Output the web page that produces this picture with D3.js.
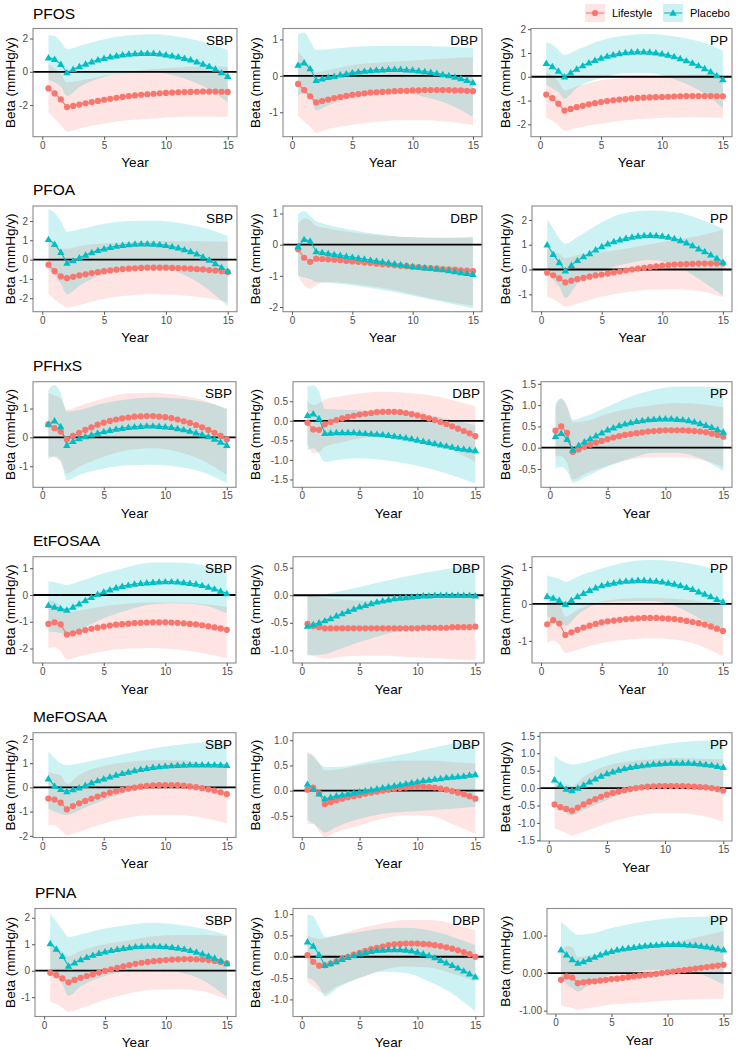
<!DOCTYPE html>
<html><head><meta charset="utf-8">
<script src="https://cdn.jsdelivr.net/npm/d3@7"></script>
<style>body{margin:0;background:#fff} text{font-family:"Liberation Sans",Arial,sans-serif}</style>
</head><body><svg id="c" width="738" height="1050"></svg>
<script>
var years = [0.5,1,1.5,2,2.5,3,3.5,4,4.5,5,5.5,6,6.5,7,7.5,8,8.5,9,9.5,10,10.5,11,11.5,12,12.5,13,13.5,14,14.5,15];
var ribbonYears = [0.5,1,1.5,2,3,5,7,9,11,13,15];
var pollutants = ["PFOS","PFOA","PFHxS","EtFOSAA","MeFOSAA","PFNA"];
var measures = ["SBP","DBP","PP"];
var groups = ["Lifestyle","Placebo"];
var xTicks = [0,5,10,15];

// ---- PFOS ----
var PFOS_SBP_L = [-1.0,-1.3,-1.66,-2.12,-2.05,-1.97,-1.89,-1.82,-1.75,-1.68,-1.62,-1.56,-1.51,-1.46,-1.42,-1.38,-1.35,-1.32,-1.29,-1.27,-1.25,-1.23,-1.22,-1.21,-1.2,-1.19,-1.19,-1.19,-1.2,-1.21];
var PFOS_SBP_Llo = [-2.45,-2.8,-3.2,-3.6,-3.4,-3.1,-2.9,-2.8,-2.72,-2.7,-2.72];
var PFOS_SBP_Lhi = [0.45,0.2,-0.12,-0.64,-0.54,-0.26,-0.02,0.16,0.26,0.32,0.3];
var PFOS_SBP_P = [0.85,0.75,0.45,-0.05,0.15,0.32,0.47,0.6,0.72,0.82,0.9,0.97,1.03,1.07,1.1,1.12,1.12,1.11,1.08,1.03,0.97,0.9,0.82,0.72,0.6,0.47,0.33,0.17,-0.05,-0.27];
var PFOS_SBP_Plo = [-0.5,-0.65,-0.9,-1.45,-0.91,-0.31,-0.06,-0.03,-0.3,-0.86,-1.84];
var PFOS_SBP_Phi = [2.2,2.15,1.8,1.35,1.55,1.95,2.2,2.25,2.1,1.8,1.3];
var PFOS_SBP_ticks = [-2,0,2];

var PFOS_DBP_L = [-0.22,-0.39,-0.56,-0.73,-0.69,-0.65,-0.61,-0.58,-0.55,-0.52,-0.5,-0.48,-0.46,-0.45,-0.44,-0.43,-0.42,-0.41,-0.41,-0.4,-0.4,-0.39,-0.39,-0.39,-0.39,-0.39,-0.4,-0.4,-0.41,-0.42];
var PFOS_DBP_Llo = [-1.1,-1.25,-1.4,-1.56,-1.46,-1.34,-1.26,-1.22,-1.22,-1.26,-1.35];
var PFOS_DBP_Lhi = [0.66,0.47,0.28,0.1,0.16,0.3,0.36,0.4,0.44,0.48,0.51];
var PFOS_DBP_P = [0.3,0.36,0.2,-0.12,-0.08,-0.04,-0.01,0.03,0.06,0.09,0.11,0.13,0.15,0.16,0.17,0.18,0.18,0.18,0.17,0.16,0.14,0.12,0.1,0.07,0.04,0.01,-0.03,-0.07,-0.12,-0.18];
var PFOS_DBP_Plo = [-0.54,-0.47,-0.56,-0.95,-0.81,-0.61,-0.5,-0.46,-0.58,-0.78,-1.13];
var PFOS_DBP_Phi = [1.14,1.19,0.96,0.71,0.73,0.79,0.82,0.82,0.82,0.8,0.77];
var PFOS_DBP_ticks = [-1,0,1];

var PFOS_PP_L = [-0.75,-0.9,-1.13,-1.42,-1.35,-1.28,-1.22,-1.16,-1.11,-1.06,-1.02,-0.99,-0.96,-0.94,-0.91,-0.89,-0.88,-0.87,-0.86,-0.85,-0.84,-0.83,-0.82,-0.81,-0.81,-0.81,-0.81,-0.81,-0.82,-0.82];
var PFOS_PP_Llo = [-1.7,-1.85,-2.05,-2.27,-2.15,-1.97,-1.83,-1.75,-1.71,-1.7,-1.72];
var PFOS_PP_Lhi = [0.2,0.05,-0.21,-0.57,-0.41,-0.15,-0.05,0.01,0.05,0.08,0.08];
var PFOS_PP_P = [0.57,0.43,0.24,0.0,0.17,0.33,0.47,0.59,0.7,0.79,0.87,0.93,0.98,1.02,1.04,1.05,1.05,1.04,1.01,0.97,0.92,0.85,0.77,0.68,0.58,0.47,0.35,0.21,0.05,-0.11];
var PFOS_PP_Plo = [-0.31,-0.49,-0.65,-0.92,-0.47,-0.05,0.15,0.15,-0.1,-0.55,-1.32];
var PFOS_PP_Phi = [1.45,1.35,1.13,0.92,1.13,1.53,1.74,1.8,1.7,1.49,1.1];
var PFOS_PP_ticks = [-2,-1,0,1,2];

// ---- PFOA ----
var PFOA_SBP_L = [-0.26,-0.6,-0.87,-0.96,-0.89,-0.82,-0.76,-0.7,-0.65,-0.6,-0.56,-0.52,-0.49,-0.47,-0.45,-0.43,-0.42,-0.42,-0.42,-0.42,-0.43,-0.44,-0.45,-0.47,-0.49,-0.51,-0.54,-0.57,-0.6,-0.64];
var PFOA_SBP_Llo = [-1.75,-2.05,-2.3,-2.48,-2.35,-2.03,-1.86,-1.8,-1.83,-1.97,-2.2];
var PFOA_SBP_Lhi = [1.23,0.85,0.56,0.56,0.71,0.83,0.92,0.96,0.95,0.95,0.92];
var PFOA_SBP_P = [1.05,0.8,0.38,-0.18,-0.05,0.1,0.24,0.37,0.48,0.57,0.64,0.7,0.75,0.78,0.81,0.82,0.82,0.81,0.79,0.74,0.68,0.62,0.52,0.42,0.3,0.15,-0.02,-0.2,-0.4,-0.6];
var PFOA_SBP_Plo = [-0.5,-0.83,-1.24,-1.8,-1.37,-0.72,-0.44,-0.41,-0.67,-1.35,-2.42];
var PFOA_SBP_Phi = [2.6,2.43,2.0,1.44,1.57,1.86,2.0,2.03,1.91,1.65,1.22];
var PFOA_SBP_ticks = [-2,-1,0,1,2];

var PFOA_DBP_L = [-0.15,-0.42,-0.55,-0.45,-0.46,-0.47,-0.48,-0.5,-0.52,-0.54,-0.55,-0.57,-0.59,-0.61,-0.63,-0.64,-0.66,-0.68,-0.69,-0.71,-0.72,-0.74,-0.75,-0.76,-0.78,-0.79,-0.8,-0.82,-0.83,-0.85];
var PFOA_DBP_Llo = [-0.99,-1.3,-1.41,-1.3,-1.2,-1.25,-1.36,-1.5,-1.68,-1.83,-1.96];
var PFOA_DBP_Lhi = [0.66,0.84,0.78,0.6,0.52,0.39,0.31,0.25,0.23,0.23,0.25];
var PFOA_DBP_P = [-0.06,0.17,0.12,-0.22,-0.25,-0.28,-0.31,-0.34,-0.37,-0.4,-0.43,-0.46,-0.49,-0.52,-0.55,-0.58,-0.61,-0.64,-0.67,-0.7,-0.72,-0.74,-0.76,-0.78,-0.8,-0.83,-0.86,-0.89,-0.92,-0.95];
var PFOA_DBP_Plo = [-1.0,-1.05,-1.1,-1.2,-1.22,-1.3,-1.42,-1.56,-1.72,-1.88,-2.05];
var PFOA_DBP_Phi = [0.98,1.08,0.92,0.76,0.63,0.47,0.34,0.25,0.22,0.21,0.23];
var PFOA_DBP_ticks = [-2,-1,0,1];

var PFOA_PP_L = [-0.13,-0.23,-0.36,-0.52,-0.45,-0.39,-0.34,-0.29,-0.24,-0.2,-0.16,-0.12,-0.08,-0.04,0.0,0.04,0.07,0.1,0.13,0.16,0.18,0.2,0.21,0.22,0.23,0.24,0.24,0.24,0.24,0.24];
var PFOA_PP_Llo = [-1.1,-1.2,-1.35,-1.5,-1.37,-1.1,-0.92,-0.82,-0.8,-0.87,-1.12];
var PFOA_PP_Lhi = [0.84,0.74,0.63,0.46,0.59,0.7,0.84,1.02,1.2,1.35,1.6];
var PFOA_PP_P = [1.0,0.62,0.28,-0.05,0.17,0.37,0.52,0.65,0.8,0.93,1.04,1.13,1.2,1.26,1.31,1.35,1.37,1.38,1.37,1.35,1.31,1.25,1.17,1.08,0.97,0.84,0.73,0.6,0.46,0.3];
var PFOA_PP_Plo = [-0.05,-0.41,-0.69,-1.14,-0.57,-0.05,0.23,0.38,0.18,-0.37,-1.05];
var PFOA_PP_Phi = [2.05,1.65,1.25,1.04,1.31,1.91,2.29,2.38,2.32,2.05,1.65];
var PFOA_PP_ticks = [-1,0,1,2];

// ---- PFHxS ----
var PFHxS_SBP_L = [0.45,0.32,0.2,-0.07,0.05,0.16,0.26,0.35,0.44,0.51,0.57,0.62,0.66,0.69,0.72,0.73,0.74,0.74,0.72,0.7,0.67,0.62,0.56,0.5,0.43,0.35,0.26,0.16,0.05,-0.07];
var PFHxS_SBP_Llo = [-0.65,-0.7,-0.85,-1.25,-1.02,-0.67,-0.44,-0.38,-0.5,-0.79,-1.3];
var PFHxS_SBP_Lhi = [1.53,1.45,1.35,0.95,1.09,1.35,1.53,1.55,1.47,1.3,0.97];
var PFHxS_SBP_P = [0.46,0.58,0.38,-0.27,-0.13,-0.04,0.03,0.09,0.15,0.2,0.25,0.29,0.32,0.35,0.37,0.39,0.4,0.4,0.39,0.37,0.35,0.31,0.27,0.22,0.16,0.1,0.03,-0.06,-0.16,-0.27];
var PFHxS_SBP_Plo = [-0.75,-0.65,-0.8,-1.48,-1.3,-1.08,-0.97,-0.95,-1.02,-1.2,-1.58];
var PFHxS_SBP_Phi = [1.64,1.82,1.53,0.89,0.95,1.18,1.32,1.38,1.35,1.24,1.0];
var PFHxS_SBP_ticks = [-1,0,1];

var PFHxS_DBP_L = [-0.05,-0.22,-0.23,-0.09,-0.03,0.02,0.06,0.1,0.13,0.16,0.18,0.2,0.22,0.23,0.23,0.23,0.22,0.2,0.17,0.14,0.1,0.06,0.02,-0.03,-0.08,-0.14,-0.2,-0.26,-0.32,-0.39];
var PFHxS_DBP_Llo = [-0.58,-0.83,-0.8,-0.66,-0.58,-0.45,-0.39,-0.41,-0.54,-0.75,-1.05];
var PFHxS_DBP_Lhi = [0.5,0.4,0.45,0.54,0.61,0.7,0.74,0.72,0.66,0.53,0.37];
var PFHxS_DBP_P = [0.14,0.18,0.06,-0.32,-0.31,-0.3,-0.3,-0.3,-0.3,-0.31,-0.32,-0.33,-0.34,-0.35,-0.37,-0.39,-0.41,-0.43,-0.46,-0.49,-0.52,-0.55,-0.58,-0.61,-0.64,-0.67,-0.7,-0.72,-0.74,-0.76];
var PFHxS_DBP_Plo = [-0.75,-0.7,-0.85,-1.05,-1.0,-0.96,-1.0,-1.09,-1.22,-1.39,-1.6];
var PFHxS_DBP_Phi = [0.87,0.91,0.75,0.31,0.29,0.27,0.23,0.19,0.14,0.02,-0.11];
var PFHxS_DBP_ticks = [-1.5,-1,-0.5,0,0.5];

var PFHxS_PP_L = [0.4,0.5,0.35,-0.1,-0.04,0.02,0.07,0.12,0.16,0.2,0.24,0.27,0.3,0.32,0.34,0.36,0.38,0.39,0.4,0.41,0.41,0.41,0.41,0.4,0.39,0.38,0.36,0.33,0.3,0.26];
var PFHxS_PP_Llo = [-0.2,-0.2,-0.35,-0.75,-0.62,-0.42,-0.28,-0.22,-0.22,-0.28,-0.45];
var PFHxS_PP_Lhi = [0.95,1.15,1.0,0.6,0.62,0.8,0.92,1.0,1.05,1.02,0.95];
var PFHxS_PP_P = [0.27,0.34,0.2,-0.05,0.06,0.14,0.21,0.28,0.35,0.42,0.47,0.52,0.56,0.59,0.62,0.64,0.66,0.67,0.68,0.68,0.68,0.67,0.66,0.64,0.61,0.57,0.53,0.48,0.43,0.37];
var PFHxS_PP_Plo = [-0.5,-0.45,-0.55,-0.82,-0.7,-0.45,-0.25,-0.12,-0.12,-0.25,-0.55];
var PFHxS_PP_Phi = [1.04,1.16,0.95,0.65,0.73,0.96,1.2,1.36,1.44,1.44,1.4];
var PFHxS_PP_ticks = [-0.5,0,0.5,1,1.5];

// ---- EtFOSAA ----
var EtFOSAA_SBP_L = [-1.08,-1.02,-1.1,-1.48,-1.43,-1.37,-1.31,-1.26,-1.22,-1.18,-1.14,-1.11,-1.09,-1.07,-1.05,-1.04,-1.03,-1.02,-1.02,-1.02,-1.03,-1.04,-1.06,-1.08,-1.1,-1.13,-1.17,-1.21,-1.25,-1.3];
var EtFOSAA_SBP_Llo = [-1.98,-1.95,-2.1,-2.42,-2.29,-2.1,-2.0,-1.98,-2.04,-2.17,-2.36];
var EtFOSAA_SBP_Lhi = [-0.2,-0.25,-0.4,-0.65,-0.58,-0.42,-0.32,-0.28,-0.28,-0.33,-0.45];
var EtFOSAA_SBP_P = [-0.38,-0.45,-0.5,-0.56,-0.45,-0.33,-0.2,-0.08,0.03,0.12,0.2,0.27,0.33,0.37,0.41,0.44,0.46,0.48,0.49,0.5,0.5,0.49,0.47,0.44,0.41,0.36,0.3,0.23,0.15,0.06];
var EtFOSAA_SBP_Plo = [-1.36,-1.38,-1.42,-1.49,-1.3,-0.87,-0.56,-0.35,-0.31,-0.37,-0.68];
var EtFOSAA_SBP_Phi = [0.5,0.48,0.42,0.37,0.5,0.81,1.05,1.21,1.21,1.12,0.87];
var EtFOSAA_SBP_ticks = [-2,-1,0,1];

var EtFOSAA_DBP_L = [-0.52,-0.56,-0.58,-0.6,-0.6,-0.6,-0.6,-0.6,-0.6,-0.6,-0.6,-0.6,-0.6,-0.6,-0.6,-0.6,-0.6,-0.6,-0.6,-0.6,-0.59,-0.59,-0.59,-0.59,-0.59,-0.58,-0.58,-0.58,-0.58,-0.57];
var EtFOSAA_DBP_Llo = [-1.06,-1.1,-1.13,-1.15,-1.13,-1.1,-1.1,-1.12,-1.14,-1.16,-1.18];
var EtFOSAA_DBP_Lhi = [0.02,-0.02,-0.03,-0.05,-0.07,-0.1,-0.1,-0.08,-0.04,-0.01,0.04];
var EtFOSAA_DBP_P = [-0.56,-0.53,-0.5,-0.46,-0.42,-0.37,-0.33,-0.29,-0.25,-0.21,-0.18,-0.15,-0.12,-0.1,-0.08,-0.06,-0.05,-0.04,-0.03,-0.02,-0.01,-0.01,0.0,0.0,0.0,0.0,0.0,0.0,0.0,-0.01];
var EtFOSAA_DBP_Plo = [-1.1,-1.09,-1.08,-1.07,-1.0,-0.85,-0.72,-0.62,-0.56,-0.53,-0.55];
var EtFOSAA_DBP_Phi = [0.0,0.0,0.0,0.02,0.06,0.15,0.25,0.34,0.42,0.49,0.55];
var EtFOSAA_DBP_ticks = [-1,-0.5,0,0.5];

var EtFOSAA_PP_L = [-0.55,-0.44,-0.53,-0.84,-0.77,-0.7,-0.64,-0.59,-0.54,-0.5,-0.47,-0.45,-0.43,-0.41,-0.4,-0.39,-0.38,-0.38,-0.38,-0.39,-0.4,-0.41,-0.43,-0.46,-0.49,-0.52,-0.56,-0.61,-0.67,-0.73];
var EtFOSAA_PP_Llo = [-1.06,-1.0,-1.1,-1.33,-1.24,-1.06,-0.97,-0.93,-0.96,-1.11,-1.42];
var EtFOSAA_PP_Lhi = [-0.04,0.12,0.04,-0.35,-0.16,0.06,0.15,0.17,0.14,0.07,-0.04];
var EtFOSAA_PP_P = [0.21,0.16,0.1,-0.01,0.1,0.2,0.29,0.37,0.44,0.5,0.54,0.57,0.6,0.62,0.63,0.64,0.64,0.63,0.62,0.6,0.57,0.54,0.5,0.45,0.4,0.33,0.27,0.2,0.13,0.06];
var EtFOSAA_PP_Plo = [-0.35,-0.4,-0.5,-0.6,-0.3,0.04,0.07,0.08,-0.05,-0.38,-0.75];
var EtFOSAA_PP_Phi = [0.78,0.72,0.68,0.6,0.74,0.96,1.13,1.19,1.16,1.05,0.87];
var EtFOSAA_PP_ticks = [-1,0,1];

// ---- MeFOSAA ----
var MeFOSAA_SBP_L = [-0.46,-0.5,-0.63,-0.91,-0.77,-0.66,-0.56,-0.47,-0.38,-0.3,-0.22,-0.16,-0.1,-0.05,-0.01,0.03,0.06,0.08,0.09,0.1,0.1,0.09,0.07,0.04,0.01,-0.03,-0.08,-0.13,-0.2,-0.28];
var MeFOSAA_SBP_Llo = [-1.56,-1.56,-1.75,-1.97,-1.83,-1.49,-1.24,-1.14,-1.14,-1.24,-1.49];
var MeFOSAA_SBP_Lhi = [0.64,0.56,0.5,0.15,0.51,0.89,1.05,1.12,1.12,1.0,0.85];
var MeFOSAA_SBP_P = [0.36,0.06,-0.08,-0.17,-0.09,-0.01,0.09,0.19,0.28,0.36,0.44,0.51,0.58,0.64,0.7,0.75,0.79,0.83,0.86,0.88,0.9,0.92,0.93,0.94,0.94,0.94,0.94,0.94,0.93,0.92];
var MeFOSAA_SBP_Plo = [-0.87,-1.0,-1.1,-1.14,-0.94,-0.52,-0.18,0.03,0.1,0.05,-0.08];
var MeFOSAA_SBP_Phi = [1.48,1.2,1.0,0.92,0.99,1.2,1.41,1.61,1.75,1.85,1.93];
var MeFOSAA_SBP_ticks = [-2,-1,0,1,2];

var MeFOSAA_DBP_L = [0.02,0.06,-0.05,-0.27,-0.23,-0.19,-0.16,-0.13,-0.11,-0.09,-0.06,-0.04,-0.02,0.0,0.02,0.04,0.05,0.06,0.07,0.08,0.08,0.07,0.06,0.04,0.02,-0.01,-0.04,-0.07,-0.11,-0.16];
var MeFOSAA_DBP_Llo = [-0.66,-0.66,-0.8,-0.92,-0.82,-0.69,-0.56,-0.49,-0.5,-0.66,-0.86];
var MeFOSAA_DBP_Lhi = [0.77,0.7,0.55,0.4,0.42,0.5,0.57,0.6,0.6,0.57,0.54];
var MeFOSAA_DBP_P = [0.13,0.03,-0.06,-0.16,-0.13,-0.1,-0.08,-0.06,-0.04,-0.02,0.0,0.02,0.04,0.06,0.08,0.1,0.12,0.14,0.16,0.18,0.2,0.21,0.23,0.24,0.26,0.27,0.28,0.29,0.31,0.32];
var MeFOSAA_DBP_Plo = [-0.59,-0.65,-0.75,-0.83,-0.72,-0.56,-0.46,-0.42,-0.39,-0.36,-0.32];
var MeFOSAA_DBP_Phi = [0.73,0.68,0.55,0.47,0.47,0.54,0.64,0.73,0.83,0.93,0.97];
var MeFOSAA_DBP_ticks = [-0.5,0,0.5,1];

var MeFOSAA_PP_L = [-0.47,-0.55,-0.6,-0.65,-0.56,-0.47,-0.39,-0.32,-0.25,-0.19,-0.14,-0.1,-0.06,-0.03,0.0,0.02,0.04,0.05,0.06,0.06,0.06,0.06,0.06,0.05,0.04,0.03,0.02,0.0,-0.03,-0.07];
var MeFOSAA_PP_Llo = [-1.17,-1.22,-1.3,-1.36,-1.26,-1.02,-0.83,-0.73,-0.72,-0.78,-0.97];
var MeFOSAA_PP_Lhi = [0.23,0.12,0.1,0.06,0.32,0.64,0.77,0.83,0.86,0.84,0.83];
var MeFOSAA_PP_P = [0.24,0.1,-0.03,-0.07,0.0,0.09,0.18,0.27,0.35,0.42,0.47,0.52,0.56,0.6,0.63,0.65,0.67,0.69,0.7,0.71,0.72,0.72,0.72,0.72,0.71,0.7,0.68,0.66,0.63,0.6];
var MeFOSAA_PP_Plo = [-0.44,-0.6,-0.72,-0.78,-0.63,-0.34,-0.1,0.03,0.05,0.0,-0.19];
var MeFOSAA_PP_Phi = [0.94,0.8,0.72,0.68,0.73,0.92,1.1,1.21,1.31,1.36,1.39];
var MeFOSAA_PP_ticks = [-1.5,-1,-0.5,0,0.5,1,1.5];

// ---- PFNA ----
var PFNA_SBP_L = [-0.08,-0.17,-0.29,-0.44,-0.35,-0.27,-0.2,-0.14,-0.07,-0.01,0.05,0.11,0.16,0.21,0.26,0.3,0.33,0.36,0.38,0.4,0.42,0.43,0.44,0.44,0.43,0.42,0.4,0.37,0.33,0.28];
var PFNA_SBP_Llo = [-1.15,-1.25,-1.4,-1.55,-1.42,-1.1,-0.85,-0.72,-0.7,-0.78,-1.1];
var PFNA_SBP_Lhi = [0.95,0.85,0.7,0.55,0.75,1.0,1.15,1.3,1.35,1.35,1.3];
var PFNA_SBP_P = [1.03,0.82,0.55,0.18,0.3,0.42,0.51,0.59,0.66,0.72,0.77,0.81,0.85,0.88,0.91,0.92,0.93,0.93,0.92,0.91,0.89,0.86,0.82,0.77,0.71,0.64,0.56,0.48,0.38,0.27];
var PFNA_SBP_Plo = [-0.1,-0.25,-0.5,-0.95,-0.6,-0.2,0.0,0.05,-0.05,-0.35,-1.0];
var PFNA_SBP_Phi = [2.16,1.85,1.55,1.28,1.37,1.59,1.74,1.81,1.74,1.59,1.34];
var PFNA_SBP_ticks = [-1,0,1,2];

var PFNA_DBP_L = [0.04,-0.12,-0.21,-0.2,-0.16,-0.11,-0.05,0.0,0.05,0.09,0.14,0.18,0.21,0.24,0.27,0.29,0.3,0.31,0.31,0.31,0.3,0.29,0.27,0.25,0.22,0.19,0.15,0.11,0.06,0.0];
var PFNA_DBP_Llo = [-0.58,-0.7,-0.8,-0.86,-0.7,-0.5,-0.31,-0.23,-0.25,-0.39,-0.58];
var PFNA_DBP_Lhi = [0.5,0.45,0.42,0.43,0.5,0.66,0.78,0.86,0.86,0.78,0.62];
var PFNA_DBP_P = [0.35,0.25,0.05,-0.2,-0.16,-0.11,-0.06,-0.01,0.03,0.07,0.1,0.13,0.15,0.16,0.17,0.17,0.17,0.16,0.14,0.11,0.07,0.03,-0.02,-0.08,-0.14,-0.2,-0.26,-0.33,-0.4,-0.47];
var PFNA_DBP_Plo = [-0.5,-0.55,-0.7,-0.93,-0.75,-0.5,-0.35,-0.38,-0.58,-0.86,-1.28];
var PFNA_DBP_Phi = [0.99,0.95,0.7,0.47,0.5,0.58,0.66,0.68,0.62,0.47,0.27];
var PFNA_DBP_ticks = [-1,-0.5,0,0.5,1];

var PFNA_PP_L = [-0.18,-0.09,-0.12,-0.27,-0.25,-0.23,-0.22,-0.2,-0.18,-0.16,-0.15,-0.13,-0.11,-0.09,-0.07,-0.05,-0.04,-0.02,0.0,0.02,0.04,0.06,0.08,0.1,0.12,0.14,0.16,0.18,0.2,0.22];
var PFNA_PP_Llo = [-0.88,-0.9,-0.93,-0.97,-0.93,-0.84,-0.8,-0.75,-0.72,-0.7,-0.68];
var PFNA_PP_Lhi = [0.52,0.72,0.69,0.43,0.47,0.52,0.62,0.75,0.84,0.98,1.12];
var PFNA_PP_P = [0.62,0.49,0.36,0.27,0.31,0.37,0.43,0.49,0.54,0.58,0.62,0.65,0.67,0.69,0.71,0.73,0.74,0.75,0.76,0.77,0.77,0.77,0.76,0.75,0.74,0.72,0.7,0.68,0.65,0.62];
var PFNA_PP_Plo = [-0.13,-0.3,-0.4,-0.49,-0.31,-0.04,0.04,0.09,0.06,-0.04,-0.31];
var PFNA_PP_Phi = [1.37,1.25,1.1,1.02,1.04,1.2,1.33,1.42,1.48,1.5,1.55];
var PFNA_PP_ticks = [-1,0,1];

// ---- axis / layout configuration ----
var yDomains = {
  PFOS:[[-3.9,2.6],[-1.67,1.3],[-2.52,2.03]],
  PFOA:[[-2.7,2.78],[-2.15,1.24],[-1.7,2.56]],
  PFHxS:[[-1.73,1.93],[-1.7,1.0],[-0.93,1.55]],
  EtFOSAA:[[-2.54,1.43],[-1.23,0.7],[-1.6,1.28]],
  MeFOSAA:[[-2.07,2.26],[-0.93,1.15],[-1.52,1.59]],
  PFNA:[[-1.73,2.35],[-1.4,1.13],[-1.09,1.72]]
};
var tickFormats = {
  PFOS:["d","d","d"], PFOA:["d","d","d"], PFHxS:["d",".1f",".1f"],
  EtFOSAA:["d",".1f","d"], MeFOSAA:["d",".1f",".1f"], PFNA:["d",".1f",".2f"]
};
var rowTop = [28.5,206,381.7,556.7,732.7,908.5];
var rowBottom = [[136.7,136.7,136.7],[311.7,311.7,311.7],[487.3,487.3,487.3],[663,663,663],[837.5,837.5,841],[1016.5,1016.5,1014]];
var panelLeft = [[33,283,531],[33,283,532],[33,293,541],[33,293,532],[33,293,540],[35,293,547]];
var panelRight = [[237,482,732],[237,482,732],[236,484,732],[236,484,732],[236,484,732],[236,484,732]];
var titleBase = [19,195,370.5,545.5,721.5,898];
var yTitleX = [10,255.5,505];

var colors = {Lifestyle:"#F8766D", Placebo:"#00BFC4"};
var fillAlpha = 0.2;

var svg = d3.select("#c");
var loc = d3.formatLocale({decimal:".",thousands:",",grouping:[3],currency:["$",""],minus:"-"});

pollutants.forEach(function(pol, r){
  svg.append("text").attr("x", panelLeft[r][0]).attr("y", titleBase[r])
     .attr("font-size", 15.5).attr("fill","#000").text(pol);
  measures.forEach(function(meas, c){
    var key = pol + "_" + meas;
    var L = panelLeft[r][c], R = panelRight[r][c], T = rowTop[r], B = rowBottom[r][c];
    var x = d3.scaleLinear().domain([-0.75,15.75]).range([L,R]);
    var y = d3.scaleLinear().domain(yDomains[pol][c]).range([B,T]);
    var g = svg.append("g");
    var clipId = "clip_" + key;
    g.append("clipPath").attr("id", clipId).append("rect")
      .attr("x",L).attr("y",T).attr("width",R-L).attr("height",B-T);
    var pg = g.append("g").attr("clip-path","url(#"+clipId+")");
    var seriesInfo = [
      {grp:"Lifestyle", mean:window[key+"_L"], lo:window[key+"_Llo"], hi:window[key+"_Lhi"]},
      {grp:"Placebo", mean:window[key+"_P"], lo:window[key+"_Plo"], hi:window[key+"_Phi"]}
    ];
    var area = d3.area()
      .x(function(d){return x(d.yr);})
      .y0(function(d){return y(d.lo);})
      .y1(function(d){return y(d.hi);})
      .curve(d3.curveMonotoneX);
    seriesInfo.forEach(function(s){
      var pts = ribbonYears.map(function(yr,i){return {yr:yr, lo:s.lo[i], hi:s.hi[i]};});
      pg.append("path").attr("d", area(pts)).attr("fill", colors[s.grp]).attr("fill-opacity", fillAlpha);
    });
    // zero reference line
    pg.append("line").attr("x1",L).attr("x2",R).attr("y1",y(0)).attr("y2",y(0))
      .attr("stroke","#000").attr("stroke-width",1.8);
    var line = d3.line().x(function(d,i){return x(years[i]);}).y(function(d){return y(d);});
    seriesInfo.forEach(function(s){
      pg.append("path").attr("d", line(s.mean)).attr("fill","none")
        .attr("stroke", colors[s.grp]).attr("stroke-width",1.1);
    });
    seriesInfo.forEach(function(s){
      if (s.grp === "Lifestyle") {
        pg.selectAll(null).data(s.mean).enter().append("circle")
          .attr("cx", function(d,i){return x(years[i]);}).attr("cy", function(d){return y(d);})
          .attr("r", 3.1).attr("fill", colors[s.grp]);
      } else {
        var tri = d3.symbol().type(d3.symbolTriangle).size(24);
        pg.selectAll(null).data(s.mean).enter().append("path")
          .attr("d", tri)
          .attr("transform", function(d,i){return "translate("+x(years[i])+","+(y(d)+0.6)+")";})
          .attr("fill", colors[s.grp]);
      }
    });
    // border
    g.append("rect").attr("x",L).attr("y",T).attr("width",R-L).attr("height",B-T)
      .attr("fill","none").attr("stroke","#8a8a8a").attr("stroke-width",1.1);
    // x axis
    var xa = g.append("g").attr("transform","translate(0,"+B+")")
      .call(d3.axisBottom(x).tickValues(xTicks).tickSize(3).tickPadding(2).tickFormat(d3.format("d")));
    xa.select(".domain").remove();
    xa.selectAll("line").attr("stroke","#555");
    xa.selectAll("text").attr("font-size",10).attr("fill","#4D4D4D")
      .attr("font-family","Liberation Sans, Arial, sans-serif");
    // y axis
    var fmt = loc.format(tickFormats[pol][c]);
    var ya = g.append("g").attr("transform","translate("+L+",0)")
      .call(d3.axisLeft(y).tickValues(window[key+"_ticks"]).tickSize(3).tickPadding(2).tickFormat(fmt));
    ya.select(".domain").remove();
    ya.selectAll("line").attr("stroke","#555");
    ya.selectAll("text").attr("font-size",10).attr("fill","#4D4D4D")
      .attr("font-family","Liberation Sans, Arial, sans-serif");
    // titles
    g.append("text").attr("x",(L+R)/2).attr("y",B+30.5).attr("text-anchor","middle")
      .attr("font-size",13.5).attr("fill","#000").text("Year");
    g.append("text").attr("transform","translate("+yTitleX[c]+","+((T+B)/2)+") rotate(-90)")
      .attr("text-anchor","middle").attr("dominant-baseline","central")
      .attr("font-size",13.5).attr("fill","#000").text("Beta (mmHg/y)");
    g.append("text").attr("x",R-4).attr("y",T+16.5).attr("text-anchor","end")
      .attr("font-size",13.5).attr("fill","#000").text(meas);
  });
});

// legend
var legX = [585, 663];
groups.forEach(function(grp,i){
  var lg = svg.append("g");
  var kx = legX[i];
  lg.append("rect").attr("x",kx).attr("y",4).attr("width",20).attr("height",18)
    .attr("fill",colors[grp]).attr("fill-opacity",fillAlpha);
  lg.append("line").attr("x1",kx+1).attr("x2",kx+19).attr("y1",13).attr("y2",13)
    .attr("stroke",colors[grp]).attr("stroke-width",1.1);
  if (grp === "Lifestyle") {
    lg.append("circle").attr("cx",kx+10).attr("cy",13).attr("r",3.1).attr("fill",colors[grp]);
  } else {
    lg.append("path").attr("d", d3.symbol().type(d3.symbolTriangle).size(24))
      .attr("transform","translate("+(kx+10)+",13.6)").attr("fill",colors[grp]);
  }
  lg.append("text").attr("x",kx+27).attr("y",13).attr("dominant-baseline","central")
    .attr("font-size",11).attr("fill","#000").text(grp);
});
</script>
</body></html>
